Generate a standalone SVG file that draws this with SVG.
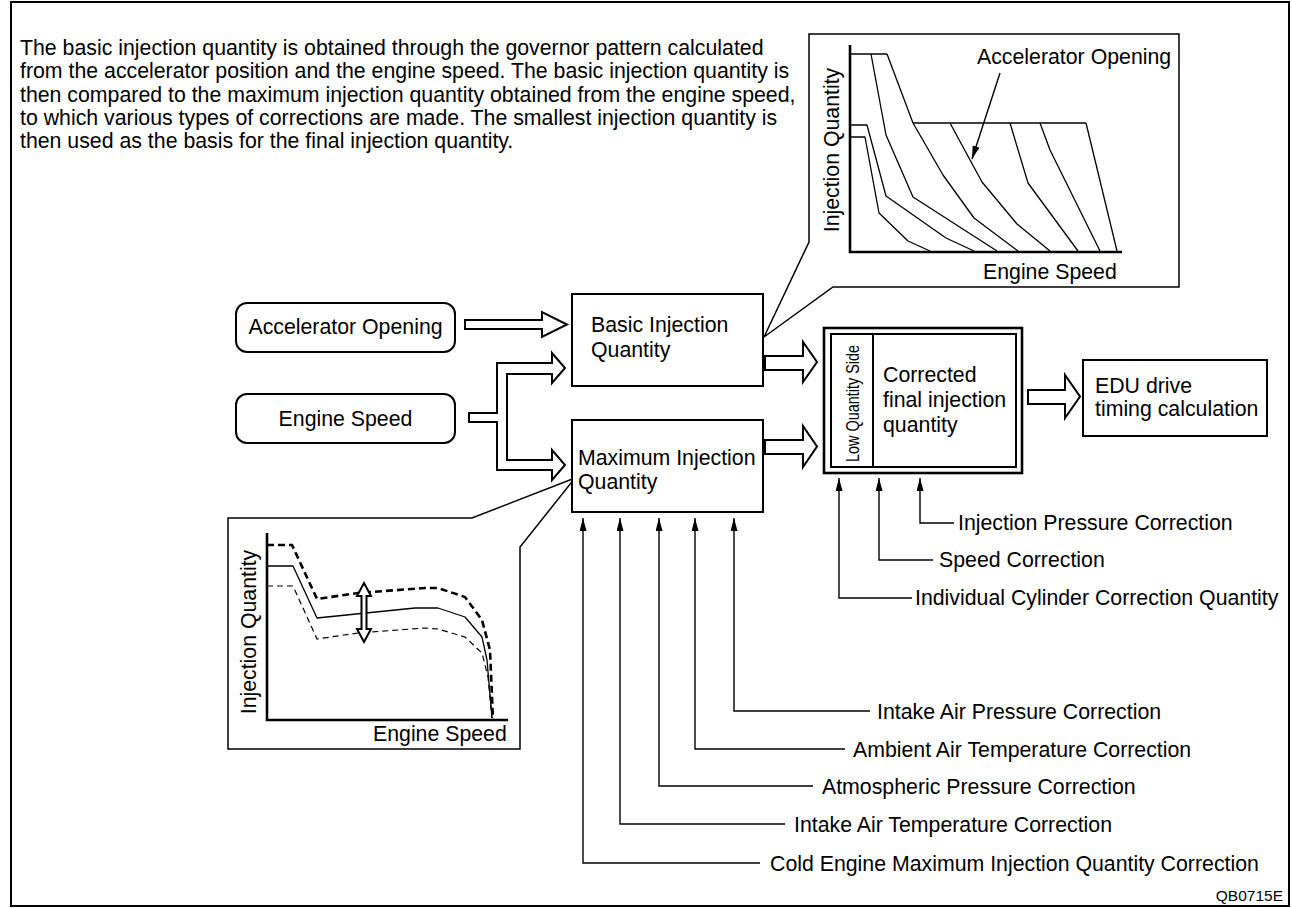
<svg xmlns="http://www.w3.org/2000/svg" width="1292" height="908" viewBox="0 0 1292 908">
<defs>
<style>
text{font-family:"Liberation Sans",Arial,sans-serif;font-size:21.3px;fill:#000}
.box{fill:#fff;stroke:#000;stroke-width:2}
.hollow{fill:#fff;stroke:#000;stroke-width:2;stroke-linejoin:miter}
.thin{fill:none;stroke:#000;stroke-width:1.4}
.conn{fill:none;stroke:#000;stroke-width:1.4;marker-end:url(#ah)}
.axis{fill:none;stroke:#000;stroke-width:2.6}
.curve{fill:none;stroke:#000;stroke-width:1.3;stroke-linejoin:round}
.callout{fill:#fff;stroke:#000;stroke-width:1.5}
</style>
<marker id="ah" markerUnits="userSpaceOnUse" markerWidth="14" markerHeight="8" refX="13" refY="3.5" orient="auto">
<path d="M0,0 L13,3.5 L0,7 Z" fill="#000"/>
</marker>
</defs>
<rect x="0" y="0" width="1292" height="908" fill="#fff"/>
<rect id="frame" x="11" y="2" width="1278" height="904" fill="none" stroke="#000" stroke-width="2"/>

<g id="description">
<text x="20" y="55">The basic injection quantity is obtained through the governor pattern calculated</text>
<text x="20" y="78.3">from the accelerator position and the engine speed. The basic injection quantity is</text>
<text x="20" y="101.6">then compared to the maximum injection quantity obtained from the engine speed,</text>
<text x="20" y="125">to which various types of corrections are made. The smallest injection quantity is</text>
<text x="20" y="148.3">then used as the basis for the final injection quantity.</text>
</g>

<g id="governor-pattern-callout">
<polygon class="callout" points="809,34 1179,34 1179,287 833,287 764,337 809,242"/>
<path class="axis" d="M850,45 V252 H1122"/>
<polyline class="curve" points="850,54 887,54"/>
<polyline class="curve" points="850,137 865,137 879,213 908,241 930,251"/>
<polyline class="curve" points="850,125 867,125 886,196 946,238 974,251"/>
<polyline class="curve" points="871,54 886,135 913,197 997,251"/>
<polyline class="curve" points="887,54 913,123 943,175 974,218 1018,251"/>
<polyline class="curve" points="913,123 1086,123"/>
<polyline class="curve" points="950,123 982,182 1017,224 1050,251"/>
<polyline class="curve" points="1010,123 1028,183 1078,251"/>
<polyline class="curve" points="1040,123 1050,150 1100,251"/>
<polyline class="curve" points="1086,123 1117,251"/>
<text x="977" y="64">Accelerator Opening</text>
<line class="conn" x1="1000" y1="73" x2="972" y2="159"/>
<text transform="translate(839,150) rotate(-90)" text-anchor="middle">Injection Quantity</text>
<text x="983" y="279">Engine Speed</text>
</g>

<g id="max-pattern-callout">
<polygon class="callout" points="228,518 472,518 575,478 520,547 520,749 228,749"/>
<path class="axis" d="M267,533 V720 H508"/>
<polyline class="curve" points="267,566 293,566 317,618 415,608 438,608 465,617 482,637 487,660 492,718"/>
<polyline fill="none" stroke="#000" stroke-width="2.6" stroke-dasharray="7,4" points="267,545 292,545 317,599 358,593 425,588 438,588 465,597 482,620 490,650 493,720"/>
<polyline fill="none" stroke="#000" stroke-width="1.2" stroke-dasharray="6,4" points="267,586 293,586 317,639 358,633 425,628 438,629 465,637 482,653 488,677 492,718"/>
<polygon class="hollow" stroke-width="1.5" points="364,583 371,596 366.5,596 366.5,629 371,629 364,642 357,629 361.5,629 361.5,596 357,596"/>
<text transform="translate(256,632) rotate(-90)" text-anchor="middle">Injection Quantity</text>
<text x="373" y="741">Engine Speed</text>
</g>

<g id="accelerator-opening">
<rect class="box" x="236" y="303" width="219" height="49" rx="11"/>
<text x="345.5" y="334" text-anchor="middle">Accelerator Opening</text>
</g>

<g id="engine-speed">
<rect class="box" x="236" y="394" width="219" height="49" rx="11"/>
<text x="345.5" y="426" text-anchor="middle">Engine Speed</text>
</g>

<g id="basic-injection-quantity">
<rect class="box" x="572" y="294" width="191" height="92"/>
<text x="591" y="332">Basic Injection</text>
<text x="591" y="357">Quantity</text>
</g>

<g id="maximum-injection-quantity">
<rect class="box" x="572" y="420" width="191" height="92"/>
<text x="578" y="465">Maximum Injection</text>
<text x="578" y="489">Quantity</text>
</g>

<g id="corrected-final-injection-quantity">
<rect x="824" y="328" width="198" height="145" fill="#fff" stroke="#000" stroke-width="2.6"/>
<rect x="831" y="334" width="185" height="133" fill="none" stroke="#000" stroke-width="2"/>
<line x1="873" y1="334" x2="873" y2="467" stroke="#000" stroke-width="2"/>
<text transform="translate(859,403.5) rotate(-90)" text-anchor="middle" style="font-size:19px" textLength="117" lengthAdjust="spacingAndGlyphs">Low Quantity Side</text>
<text x="883" y="382">Corrected</text>
<text x="883" y="407">final injection</text>
<text x="883" y="432">quantity</text>
</g>

<g id="edu-drive-timing">
<rect class="box" x="1083" y="360" width="184" height="76"/>
<text x="1095" y="393">EDU drive</text>
<text x="1095" y="416">timing calculation</text>
</g>

<g id="correction-labels">
<text x="958" y="530">Injection Pressure Correction</text>
<text x="939" y="567">Speed Correction</text>
<text x="915" y="605">Individual Cylinder Correction Quantity</text>
<text x="877" y="718.5">Intake Air Pressure Correction</text>
<text x="853" y="756.5">Ambient Air Temperature Correction</text>
<text x="822" y="793.5">Atmospheric Pressure Correction</text>
<text x="794" y="831.5">Intake Air Temperature Correction</text>
<text x="770" y="870.5">Cold Engine Maximum Injection Quantity Correction</text>
<text x="1283" y="901" text-anchor="end" style="font-size:15.5px">QB0715E</text>
</g>

<g id="connectors">
<polygon class="hollow" points="465,320 542,320 542,312 567,324.5 542,337 542,329 465,329"/>
<polygon class="hollow" points="469,413 497,413 497,363 552,363 552,353 565,368 552,383 552,374 507,374 507,460 552,460 552,450 565,465 552,480 552,470 497,470 497,422 469,422"/>
<polygon class="hollow" points="765,356 803,356 803,342 817,362 803,382 803,370 765,370"/>
<polygon class="hollow" points="765,440 803,440 803,426 817,446.5 803,467 803,454 765,454"/>
<polygon class="hollow" points="1028,390 1065,390 1065,375 1080,396.5 1065,418 1065,404 1028,404"/>
<path class="conn" d="M954,523 H920 V478"/>
<path class="conn" d="M933,560 H879 V478"/>
<path class="conn" d="M912,598 H839 V478"/>
<path class="conn" d="M870,711 H734 V518"/>
<path class="conn" d="M845,749 H695 V518"/>
<path class="conn" d="M813,786 H659 V518"/>
<path class="conn" d="M785,824 H620 V518"/>
<path class="conn" d="M760,863 H583 V518"/>
</g>
</svg>
